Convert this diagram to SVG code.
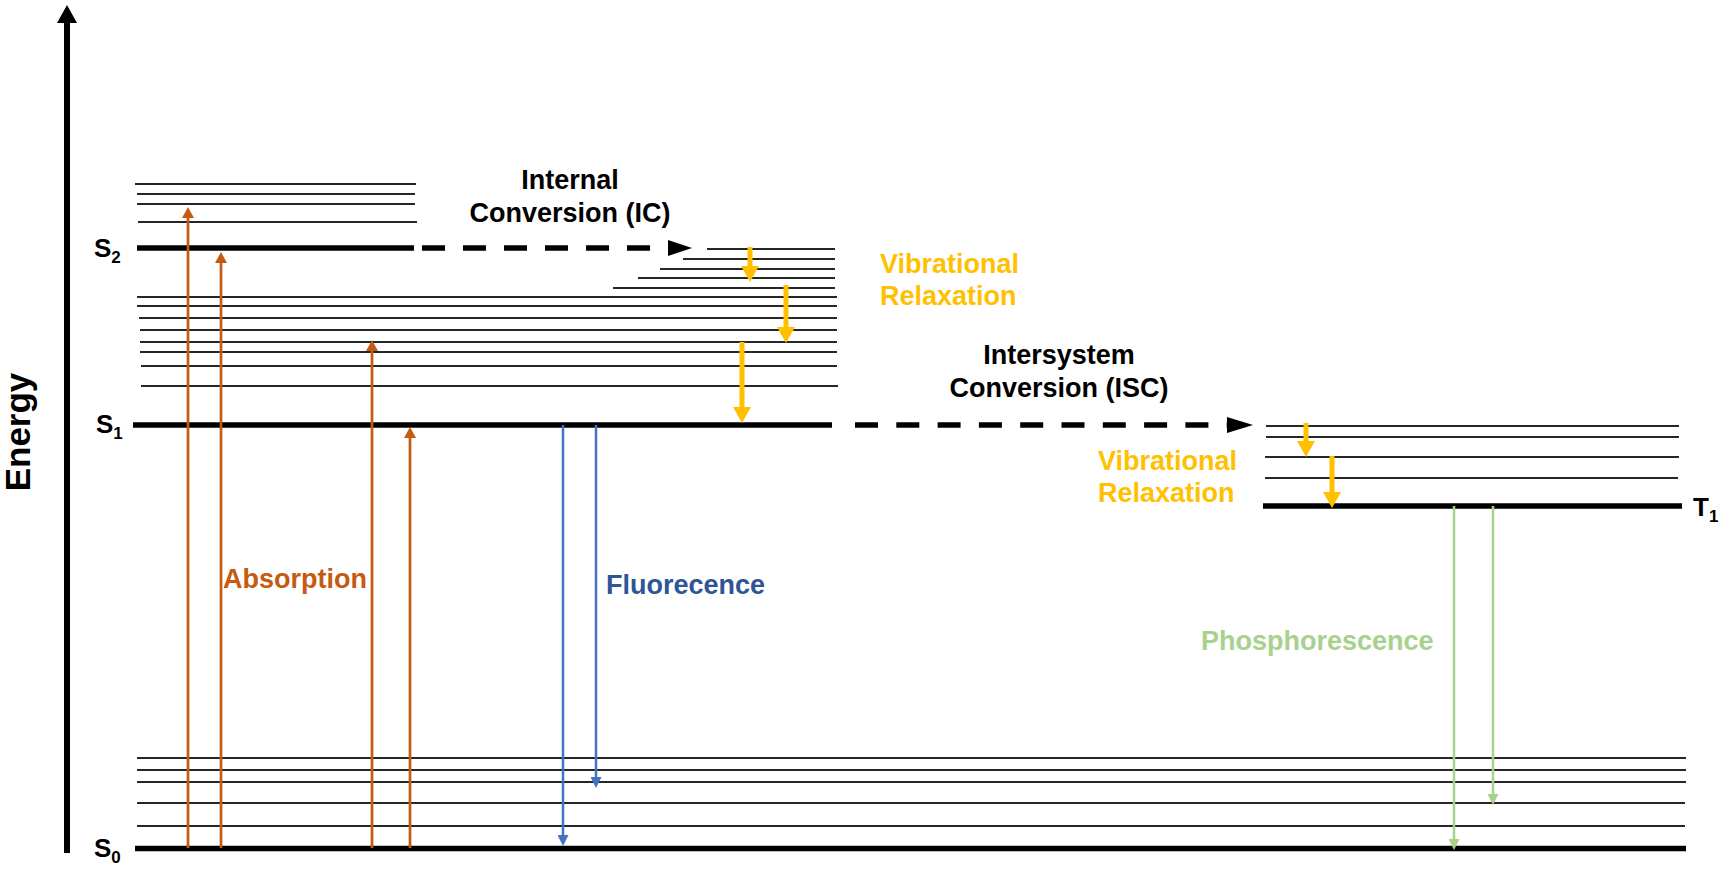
<svg xmlns="http://www.w3.org/2000/svg" width="1725" height="870" viewBox="0 0 1725 870">
<style>
text{font-family:"Liberation Sans",Arial,sans-serif;font-weight:bold}
.lbl{font-size:27px}
.st{font-size:26px;fill:#000}
.sub{font-size:17px}
.v{stroke:#262626;stroke-width:2;fill:none}
.g{stroke:#000;stroke-width:5.5;fill:none}
.dash{stroke:#000;stroke-width:5.5;fill:none}
.or{stroke:#C55A11;stroke-width:2.7;fill:none}
.bl{stroke:#4472C4;stroke-width:2.5;fill:none}
.gr{stroke:#A9D18E;stroke-width:2.5;fill:none}
.ye{stroke:#FFC000;stroke-width:5;fill:none}
</style>
<defs>
<marker id="mOr" markerUnits="userSpaceOnUse" markerWidth="12" markerHeight="12" refX="0" refY="6" orient="auto"><path d="M0,0 L11,6 L0,12 z" fill="#C55A11"/></marker>
<marker id="mBl" markerUnits="userSpaceOnUse" markerWidth="11" markerHeight="11" refX="0" refY="5.5" orient="auto"><path d="M0,0 L11,5.5 L0,11 z" fill="#4472C4"/></marker>
<marker id="mGr" markerUnits="userSpaceOnUse" markerWidth="11" markerHeight="11" refX="0" refY="5.5" orient="auto"><path d="M0,0 L11,5.5 L0,11 z" fill="#A9D18E"/></marker>
<marker id="mYe" markerUnits="userSpaceOnUse" markerWidth="17" markerHeight="18" refX="0" refY="9" orient="auto"><path d="M0,0 L16,9 L0,18 z" fill="#FFC000"/></marker>
</defs>
<rect width="1725" height="870" fill="#fff"/>

<g id="energy-axis">
<line x1="67" y1="853" x2="67" y2="20" stroke="#000" stroke-width="6"/>
<polygon points="67,5 57,23 77,23" fill="#000"/>
<text style="font-size:35px" transform="translate(30,432) rotate(-90)" text-anchor="middle">Energy</text>
</g>

<g id="S2">
<line class="v" x1="135" y1="184" x2="416" y2="184"/>
<line class="v" x1="137" y1="194" x2="415" y2="194"/>
<line class="v" x1="137" y1="204" x2="415" y2="204"/>
<line class="v" x1="138" y1="222" x2="417" y2="222"/>
<line class="g" x1="137" y1="248" x2="414" y2="248"/>
<text class="st" x="94" y="257">S<tspan class="sub" dy="6">2</tspan></text>
</g>

<g id="S2-vib-right">
<line class="v" x1="707" y1="249" x2="835" y2="249"/>
<line class="v" x1="683" y1="259" x2="835" y2="259"/>
<line class="v" x1="660" y1="269" x2="835" y2="269"/>
<line class="v" x1="638" y1="278" x2="835" y2="278"/>
<line class="v" x1="613" y1="288" x2="835" y2="288"/>
</g>

<g id="S1">
<line class="v" x1="137" y1="297" x2="837" y2="297"/>
<line class="v" x1="137" y1="306" x2="837" y2="306"/>
<line class="v" x1="139" y1="318" x2="837" y2="318"/>
<line class="v" x1="140" y1="330" x2="837" y2="330"/>
<line class="v" x1="140" y1="342" x2="837" y2="342"/>
<line class="v" x1="140" y1="352" x2="837" y2="352"/>
<line class="v" x1="141" y1="366" x2="837" y2="366"/>
<line class="v" x1="141" y1="386" x2="838" y2="386"/>
<line class="g" x1="133" y1="425" x2="832" y2="425"/>
<text class="st" x="96" y="433">S<tspan class="sub" dy="6">1</tspan></text>
</g>

<g id="T1">
<line class="v" x1="1266" y1="426" x2="1679" y2="426"/>
<line class="v" x1="1266" y1="437" x2="1679" y2="437"/>
<line class="v" x1="1265" y1="457" x2="1679" y2="457"/>
<line class="v" x1="1265" y1="478" x2="1678" y2="478"/>
<line class="g" x1="1263" y1="506" x2="1682" y2="506"/>
<text class="st" x="1693" y="516">T<tspan class="sub" dy="6">1</tspan></text>
</g>

<g id="S0">
<line class="v" x1="137" y1="758" x2="1686" y2="758"/>
<line class="v" x1="137" y1="770" x2="1686" y2="770"/>
<line class="v" x1="137" y1="782" x2="1686" y2="782"/>
<line class="v" x1="137" y1="803" x2="1685" y2="803"/>
<line class="v" x1="137" y1="826" x2="1685" y2="826"/>
<line class="g" x1="135" y1="848.5" x2="1686" y2="848.5"/>
<text class="st" x="94" y="857">S<tspan class="sub" dy="6">0</tspan></text>
</g>

<g id="connectors">
<line class="dash" x1="422" y1="248" x2="668" y2="248" stroke-dasharray="23 18"/>
<polygon points="668,240 692,248 668,256" fill="#000"/>
<line class="dash" x1="855" y1="425" x2="1227" y2="425" stroke-dasharray="23 18.3"/>
<polygon points="1227,417 1253,425 1227,433" fill="#000"/>

<line class="or" x1="188" y1="848" x2="188" y2="218" marker-end="url(#mOr)"/>
<line class="or" x1="221" y1="848" x2="221" y2="263" marker-end="url(#mOr)"/>
<line class="or" x1="372" y1="848" x2="372" y2="351" marker-end="url(#mOr)"/>
<line class="or" x1="410" y1="848" x2="410" y2="438" marker-end="url(#mOr)"/>

<line class="bl" x1="563" y1="425" x2="563" y2="835" marker-end="url(#mBl)"/>
<line class="bl" x1="596" y1="425" x2="596" y2="777" marker-end="url(#mBl)"/>

<line class="gr" x1="1454" y1="506" x2="1454" y2="839" marker-end="url(#mGr)"/>
<line class="gr" x1="1493" y1="506" x2="1493" y2="794" marker-end="url(#mGr)"/>

<line class="ye" x1="750" y1="247" x2="750" y2="266" marker-end="url(#mYe)"/>
<line class="ye" x1="786" y1="285" x2="786" y2="327" marker-end="url(#mYe)"/>
<line class="ye" x1="742" y1="342" x2="742" y2="407" marker-end="url(#mYe)"/>
<line class="ye" x1="1306" y1="423" x2="1306" y2="441" marker-end="url(#mYe)"/>
<line class="ye" x1="1332" y1="456" x2="1332" y2="492" marker-end="url(#mYe)"/>
</g>

<g id="labels">
<text class="lbl" x="570" y="189" text-anchor="middle">Internal</text>
<text class="lbl" x="570" y="222" text-anchor="middle">Conversion (IC)</text>
<text class="lbl" x="1059" y="364" text-anchor="middle">Intersystem</text>
<text class="lbl" x="1059" y="397" text-anchor="middle">Conversion (ISC)</text>
<text class="lbl" x="880" y="273" fill="#FFC000">Vibrational</text>
<text class="lbl" x="880" y="305" fill="#FFC000">Relaxation</text>
<text class="lbl" x="1098" y="470" fill="#FFC000">Vibrational</text>
<text class="lbl" x="1098" y="502" fill="#FFC000">Relaxation</text>
<text class="lbl" x="223" y="588" fill="#C55A11">Absorption</text>
<text class="lbl" x="606" y="594" fill="#2F5597">Fluorecence</text>
<text class="lbl" x="1201" y="650" fill="#A9D18E">Phosphorescence</text>
</g>
</svg>
